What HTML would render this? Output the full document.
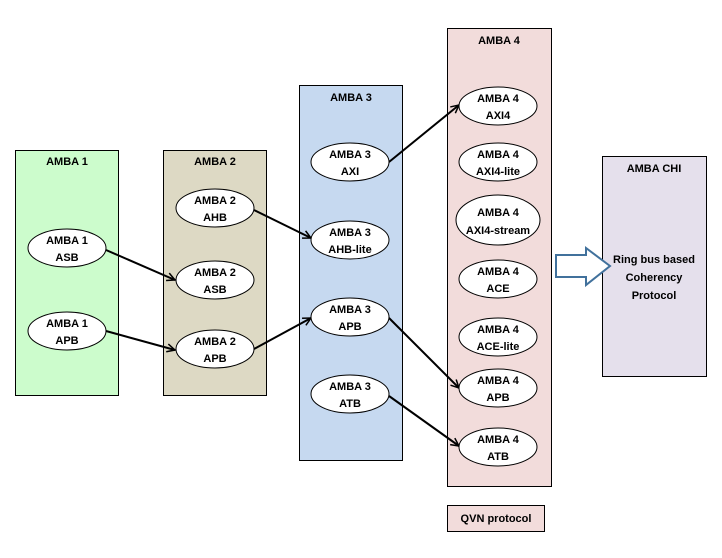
<!DOCTYPE html>
<html><head><style>body{margin:0;background:#fff}svg text{font-family:"Liberation Sans",sans-serif;font-weight:bold;font-size:11px;fill:#000}</style></head><body>
<svg width="722" height="553" xmlns="http://www.w3.org/2000/svg">
<defs><marker id="a" markerWidth="10" markerHeight="10" refX="9" refY="5" orient="auto" markerUnits="userSpaceOnUse"><path d="M1,1 L9,5 L1,9" fill="none" stroke="#000" stroke-width="1.5"/></marker></defs>
<g stroke="#000" stroke-width="1">
<rect x="15.5" y="150.5" width="103" height="245" fill="#ccfccc"/>
<rect x="163.5" y="150.5" width="103" height="245" fill="#ddd9c4"/>
<rect x="299.5" y="85.5" width="103" height="375" fill="#c6d9f0"/>
<rect x="447.5" y="28.5" width="104" height="458" fill="#f2dcdb"/>
<rect x="602.5" y="156.5" width="104" height="220" fill="#e5e0ec"/>
<rect x="447.5" y="505.5" width="97" height="26" fill="#f2dcdb"/>
</g>
<text x="67" y="165" text-anchor="middle">AMBA 1</text>
<text x="215" y="165" text-anchor="middle">AMBA 2</text>
<text x="351" y="101" text-anchor="middle">AMBA 3</text>
<text x="499" y="44" text-anchor="middle">AMBA 4</text>
<text x="654" y="172" text-anchor="middle">AMBA CHI</text>
<text x="496" y="522" text-anchor="middle">QVN protocol</text>
<text x="654" y="263" text-anchor="middle">Ring bus based</text>
<text x="654" y="281" text-anchor="middle">Coherency</text>
<text x="654" y="299" text-anchor="middle">Protocol</text>
<path d="M556,255 H586 V248 L610,266 L586,285 V277 H556 Z" fill="#fff" stroke="#41719c" stroke-width="2"/>
<g stroke="#000" stroke-width="2" marker-end="url(#a)">
<line x1="106" y1="250" x2="175" y2="280"/>
<line x1="106" y1="331" x2="175" y2="350"/>
<line x1="254" y1="210" x2="311" y2="238"/>
<line x1="254" y1="349" x2="311" y2="318"/>
<line x1="389" y1="162" x2="459" y2="105"/>
<line x1="389" y1="318" x2="459" y2="388"/>
<line x1="389" y1="396" x2="459" y2="446"/>
</g>
<g fill="#fff" stroke="#000" stroke-width="1">
<ellipse cx="67" cy="248" rx="39" ry="19"/>
<ellipse cx="67" cy="331" rx="39" ry="19"/>
<ellipse cx="215" cy="208" rx="39" ry="19"/>
<ellipse cx="215" cy="280" rx="39" ry="19"/>
<ellipse cx="215" cy="349" rx="39" ry="19"/>
<ellipse cx="350" cy="162" rx="39" ry="19"/>
<ellipse cx="350" cy="240" rx="39" ry="19"/>
<ellipse cx="350" cy="317" rx="39" ry="19"/>
<ellipse cx="350" cy="394" rx="39" ry="19"/>
<ellipse cx="498" cy="106" rx="39" ry="19"/>
<ellipse cx="498" cy="162" rx="39" ry="19"/>
<ellipse cx="498" cy="220" rx="42" ry="25"/>
<ellipse cx="498" cy="279" rx="39" ry="19"/>
<ellipse cx="498" cy="337" rx="39" ry="19"/>
<ellipse cx="498" cy="388" rx="39" ry="19"/>
<ellipse cx="498" cy="447" rx="39" ry="19"/>
</g>
<g text-anchor="middle">
<text x="67" y="244">AMBA 1</text><text x="67" y="261">ASB</text>
<text x="67" y="327">AMBA 1</text><text x="67" y="344">APB</text>
<text x="215" y="204">AMBA 2</text><text x="215" y="221">AHB</text>
<text x="215" y="276">AMBA 2</text><text x="215" y="293">ASB</text>
<text x="215" y="345">AMBA 2</text><text x="215" y="362">APB</text>
<text x="350" y="158">AMBA 3</text><text x="350" y="175">AXI</text>
<text x="350" y="236">AMBA 3</text><text x="350" y="253">AHB-lite</text>
<text x="350" y="313">AMBA 3</text><text x="350" y="330">APB</text>
<text x="350" y="390">AMBA 3</text><text x="350" y="407">ATB</text>
<text x="498" y="102">AMBA 4</text><text x="498" y="119">AXI4</text>
<text x="498" y="158">AMBA 4</text><text x="498" y="175">AXI4-lite</text>
<text x="498" y="216">AMBA 4</text><text x="498" y="234">AXI4-stream</text>
<text x="498" y="275">AMBA 4</text><text x="498" y="292">ACE</text>
<text x="498" y="333">AMBA 4</text><text x="498" y="350">ACE-lite</text>
<text x="498" y="384">AMBA 4</text><text x="498" y="401">APB</text>
<text x="498" y="443">AMBA 4</text><text x="498" y="460">ATB</text>
</g>
</svg>
</body></html>
